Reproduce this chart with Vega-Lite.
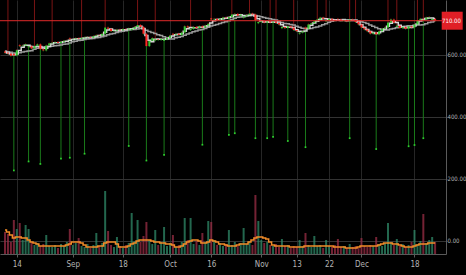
{
"$schema": "https://vega.github.io/schema/vega-lite/v6.json",
"width": 446, "height": 254,
"autosize": {"type": "none"},
"padding": {"left": 0, "top": 0, "right": 20, "bottom": 21},
"background": "#000000",
"config": {"view": {"stroke": null}},
"datasets": {"bars": [
{"i":0,"o":611,"c":607,"h":614,"l":604,"v":220,"m1":609,"m2":612,"vm":240},
{"i":1,"o":607,"c":604,"h":850,"l":601,"v":200,"m1":606,"m2":610,"vm":220},
{"i":2,"o":604,"c":597,"h":607,"l":594,"v":120,"m1":603,"m2":608,"vm":190},
{"i":3,"o":603,"c":598,"h":606,"l":227,"v":340,"m1":600,"m2":606,"vm":160},
{"i":4,"o":598,"c":615,"h":618,"l":595,"v":250,"m1":603,"m2":606,"vm":170},
{"i":5,"o":631,"c":628,"h":634,"l":625,"v":310,"m1":614,"m2":607,"vm":170},
{"i":6,"o":628,"c":630,"h":633,"l":625,"v":140,"m1":624,"m2":609,"vm":160},
{"i":7,"o":630,"c":634,"h":637,"l":627,"v":290,"m1":631,"m2":611,"vm":160},
{"i":8,"o":624,"c":628,"h":631,"l":256,"v":250,"m1":631,"m2":612,"vm":140},
{"i":9,"o":628,"c":620,"h":631,"l":617,"v":120,"m1":627,"m2":613,"vm":120},
{"i":10,"o":620,"c":628,"h":850,"l":617,"v":90,"m1":625,"m2":618,"vm":110},
{"i":11,"o":628,"c":634,"h":637,"l":625,"v":110,"m1":627,"m2":621,"vm":100},
{"i":12,"o":634,"c":618,"h":637,"l":248,"v":80,"m1":627,"m2":623,"vm":80},
{"i":13,"o":618,"c":614,"h":621,"l":611,"v":100,"m1":622,"m2":625,"vm":80},
{"i":14,"o":614,"c":630,"h":633,"l":611,"v":190,"m1":621,"m2":626,"vm":80},
{"i":15,"o":630,"c":637,"h":640,"l":627,"v":80,"m1":627,"m2":627,"vm":80},
{"i":16,"o":637,"c":639,"h":850,"l":634,"v":70,"m1":635,"m2":628,"vm":80},
{"i":17,"o":639,"c":641,"h":644,"l":636,"v":90,"m1":639,"m2":629,"vm":80},
{"i":18,"o":641,"c":638,"h":644,"l":635,"v":60,"m1":639,"m2":630,"vm":80},
{"i":19,"o":638,"c":642,"h":645,"l":265,"v":100,"m1":640,"m2":632,"vm":80},
{"i":20,"o":642,"c":645,"h":648,"l":639,"v":80,"m1":642,"m2":634,"vm":80},
{"i":21,"o":645,"c":646,"h":649,"l":642,"v":120,"m1":644,"m2":635,"vm":90},
{"i":22,"o":653,"c":650,"h":656,"l":268,"v":250,"m1":647,"m2":638,"vm":100},
{"i":23,"o":650,"c":651,"h":654,"l":647,"v":90,"m1":649,"m2":642,"vm":120},
{"i":24,"o":651,"c":653,"h":656,"l":648,"v":110,"m1":651,"m2":644,"vm":120},
{"i":25,"o":653,"c":651,"h":656,"l":648,"v":160,"m1":652,"m2":646,"vm":120},
{"i":26,"o":651,"c":654,"h":850,"l":648,"v":80,"m1":653,"m2":647,"vm":110},
{"i":27,"o":654,"c":656,"h":659,"l":281,"v":70,"m1":654,"m2":649,"vm":90},
{"i":28,"o":656,"c":657,"h":660,"l":653,"v":100,"m1":656,"m2":651,"vm":70},
{"i":29,"o":657,"c":655,"h":660,"l":652,"v":60,"m1":656,"m2":652,"vm":70},
{"i":30,"o":655,"c":660,"h":663,"l":652,"v":90,"m1":657,"m2":653,"vm":70},
{"i":31,"o":660,"c":663,"h":666,"l":657,"v":210,"m1":659,"m2":655,"vm":70},
{"i":32,"o":663,"c":662,"h":666,"l":659,"v":80,"m1":662,"m2":656,"vm":80},
{"i":33,"o":662,"c":668,"h":671,"l":659,"v":110,"m1":664,"m2":658,"vm":80},
{"i":34,"o":668,"c":688,"h":850,"l":665,"v":630,"m1":673,"m2":661,"vm":110},
{"i":35,"o":688,"c":684,"h":691,"l":681,"v":230,"m1":680,"m2":665,"vm":120},
{"i":36,"o":684,"c":676,"h":687,"l":673,"v":90,"m1":683,"m2":667,"vm":120},
{"i":37,"o":676,"c":678,"h":681,"l":673,"v":70,"m1":679,"m2":669,"vm":120},
{"i":38,"o":678,"c":681,"h":684,"l":675,"v":170,"m1":678,"m2":672,"vm":100},
{"i":39,"o":681,"c":679,"h":684,"l":676,"v":80,"m1":679,"m2":674,"vm":70},
{"i":40,"o":679,"c":683,"h":686,"l":676,"v":60,"m1":681,"m2":676,"vm":70},
{"i":41,"o":683,"c":682,"h":686,"l":679,"v":90,"m1":681,"m2":678,"vm":70},
{"i":42,"o":682,"c":685,"h":688,"l":306,"v":110,"m1":683,"m2":680,"vm":80},
{"i":43,"o":680,"c":684,"h":687,"l":677,"v":410,"m1":684,"m2":682,"vm":100},
{"i":44,"o":684,"c":690,"h":693,"l":681,"v":130,"m1":686,"m2":682,"vm":110},
{"i":45,"o":690,"c":696,"h":850,"l":687,"v":340,"m1":690,"m2":683,"vm":130},
{"i":46,"o":696,"c":690,"h":699,"l":687,"v":120,"m1":692,"m2":685,"vm":140},
{"i":47,"o":690,"c":668,"h":693,"l":665,"v":180,"m1":685,"m2":684,"vm":140},
{"i":48,"o":668,"c":628,"h":671,"l":259,"v":320,"m1":662,"m2":679,"vm":140},
{"i":49,"o":628,"c":645,"h":648,"l":625,"v":140,"m1":647,"m2":675,"vm":140},
{"i":50,"o":645,"c":654,"h":657,"l":642,"v":100,"m1":642,"m2":672,"vm":130},
{"i":51,"o":646,"c":650,"h":850,"l":643,"v":240,"m1":650,"m2":669,"vm":120},
{"i":52,"o":650,"c":648,"h":653,"l":645,"v":90,"m1":651,"m2":665,"vm":120},
{"i":53,"o":648,"c":652,"h":655,"l":645,"v":120,"m1":650,"m2":662,"vm":110},
{"i":54,"o":645,"c":650,"h":653,"l":277,"v":270,"m1":650,"m2":658,"vm":110},
{"i":55,"o":650,"c":655,"h":658,"l":647,"v":80,"m1":652,"m2":654,"vm":100},
{"i":56,"o":655,"c":662,"h":665,"l":652,"v":110,"m1":656,"m2":651,"vm":100},
{"i":57,"o":668,"c":665,"h":671,"l":662,"v":190,"m1":661,"m2":651,"vm":90},
{"i":58,"o":665,"c":668,"h":671,"l":662,"v":70,"m1":665,"m2":655,"vm":70},
{"i":59,"o":668,"c":664,"h":671,"l":661,"v":90,"m1":666,"m2":657,"vm":70},
{"i":60,"o":664,"c":672,"h":675,"l":661,"v":120,"m1":668,"m2":659,"vm":80},
{"i":61,"o":672,"c":692,"h":695,"l":669,"v":360,"m1":676,"m2":663,"vm":100},
{"i":62,"o":692,"c":688,"h":695,"l":685,"v":140,"m1":684,"m2":667,"vm":120},
{"i":63,"o":680,"c":684,"h":850,"l":677,"v":360,"m1":688,"m2":670,"vm":130},
{"i":64,"o":684,"c":690,"h":693,"l":681,"v":100,"m1":687,"m2":674,"vm":140},
{"i":65,"o":690,"c":686,"h":693,"l":683,"v":130,"m1":687,"m2":677,"vm":140},
{"i":66,"o":686,"c":692,"h":695,"l":683,"v":90,"m1":689,"m2":680,"vm":130},
{"i":67,"o":692,"c":688,"h":695,"l":310,"v":210,"m1":689,"m2":682,"vm":110},
{"i":68,"o":688,"c":694,"h":697,"l":685,"v":120,"m1":691,"m2":685,"vm":110},
{"i":69,"o":694,"c":700,"h":703,"l":691,"v":330,"m1":694,"m2":689,"vm":120},
{"i":70,"o":718,"c":714,"h":850,"l":711,"v":320,"m1":703,"m2":693,"vm":140},
{"i":71,"o":714,"c":716,"h":719,"l":711,"v":140,"m1":710,"m2":695,"vm":130},
{"i":72,"o":716,"c":712,"h":719,"l":709,"v":90,"m1":714,"m2":698,"vm":120},
{"i":73,"o":712,"c":716,"h":719,"l":709,"v":110,"m1":715,"m2":701,"vm":100},
{"i":74,"o":716,"c":720,"h":723,"l":713,"v":80,"m1":716,"m2":704,"vm":100},
{"i":75,"o":720,"c":718,"h":723,"l":715,"v":100,"m1":718,"m2":707,"vm":90},
{"i":76,"o":718,"c":722,"h":725,"l":342,"v":240,"m1":720,"m2":710,"vm":80},
{"i":77,"o":722,"c":730,"h":850,"l":719,"v":90,"m1":723,"m2":714,"vm":80},
{"i":78,"o":730,"c":732,"h":735,"l":347,"v":120,"m1":728,"m2":718,"vm":80},
{"i":79,"o":732,"c":726,"h":735,"l":723,"v":80,"m1":729,"m2":721,"vm":90},
{"i":80,"o":726,"c":730,"h":733,"l":723,"v":110,"m1":729,"m2":722,"vm":100},
{"i":81,"o":720,"c":724,"h":727,"l":717,"v":260,"m1":727,"m2":723,"vm":100},
{"i":82,"o":724,"c":728,"h":731,"l":721,"v":100,"m1":727,"m2":725,"vm":100},
{"i":83,"o":728,"c":733,"h":850,"l":725,"v":130,"m1":728,"m2":726,"vm":120},
{"i":84,"o":733,"c":730,"h":736,"l":727,"v":90,"m1":730,"m2":727,"vm":140},
{"i":85,"o":730,"c":712,"h":733,"l":331,"v":590,"m1":725,"m2":727,"vm":160},
{"i":86,"o":702,"c":706,"h":709,"l":699,"v":330,"m1":716,"m2":725,"vm":170},
{"i":87,"o":706,"c":708,"h":711,"l":703,"v":140,"m1":709,"m2":723,"vm":170},
{"i":88,"o":708,"c":704,"h":711,"l":701,"v":110,"m1":706,"m2":720,"vm":160},
{"i":89,"o":704,"c":708,"h":711,"l":331,"v":120,"m1":707,"m2":718,"vm":150},
{"i":90,"o":708,"c":704,"h":850,"l":701,"v":90,"m1":705,"m2":716,"vm":120},
{"i":91,"o":704,"c":707,"h":710,"l":335,"v":80,"m1":706,"m2":714,"vm":90},
{"i":92,"o":707,"c":703,"h":850,"l":700,"v":100,"m1":705,"m2":712,"vm":80},
{"i":93,"o":703,"c":698,"h":706,"l":695,"v":70,"m1":703,"m2":708,"vm":80},
{"i":94,"o":686,"c":690,"h":693,"l":683,"v":150,"m1":697,"m2":704,"vm":80},
{"i":95,"o":690,"c":686,"h":693,"l":683,"v":80,"m1":691,"m2":701,"vm":80},
{"i":96,"o":686,"c":692,"h":695,"l":322,"v":90,"m1":689,"m2":700,"vm":80},
{"i":97,"o":692,"c":688,"h":695,"l":685,"v":60,"m1":689,"m2":698,"vm":70},
{"i":98,"o":688,"c":680,"h":850,"l":677,"v":80,"m1":687,"m2":696,"vm":70},
{"i":99,"o":680,"c":676,"h":683,"l":673,"v":70,"m1":681,"m2":692,"vm":70},
{"i":100,"o":668,"c":672,"h":675,"l":665,"v":140,"m1":676,"m2":689,"vm":70},
{"i":101,"o":672,"c":676,"h":679,"l":669,"v":80,"m1":675,"m2":686,"vm":70},
{"i":102,"o":688,"c":684,"h":691,"l":302,"v":210,"m1":677,"m2":684,"vm":80},
{"i":103,"o":684,"c":698,"h":701,"l":681,"v":90,"m1":686,"m2":684,"vm":80},
{"i":104,"o":698,"c":702,"h":705,"l":695,"v":70,"m1":695,"m2":685,"vm":80},
{"i":105,"o":702,"c":708,"h":711,"l":699,"v":180,"m1":703,"m2":688,"vm":80},
{"i":106,"o":708,"c":714,"h":850,"l":705,"v":80,"m1":708,"m2":690,"vm":80},
{"i":107,"o":714,"c":720,"h":723,"l":711,"v":90,"m1":714,"m2":693,"vm":80},
{"i":108,"o":720,"c":716,"h":723,"l":713,"v":60,"m1":717,"m2":697,"vm":80},
{"i":109,"o":708,"c":712,"h":850,"l":705,"v":140,"m1":716,"m2":700,"vm":80},
{"i":110,"o":712,"c":716,"h":719,"l":709,"v":80,"m1":715,"m2":705,"vm":80},
{"i":111,"o":716,"c":713,"h":719,"l":710,"v":70,"m1":714,"m2":708,"vm":80},
{"i":112,"o":713,"c":710,"h":716,"l":707,"v":90,"m1":713,"m2":711,"vm":70},
{"i":113,"o":716,"c":714,"h":719,"l":711,"v":150,"m1":712,"m2":713,"vm":70},
{"i":114,"o":714,"c":710,"h":717,"l":707,"v":70,"m1":711,"m2":713,"vm":70},
{"i":115,"o":710,"c":712,"h":715,"l":707,"v":80,"m1":712,"m2":714,"vm":70},
{"i":116,"o":712,"c":708,"h":715,"l":705,"v":60,"m1":710,"m2":713,"vm":60},
{"i":117,"o":708,"c":714,"h":850,"l":331,"v":100,"m1":711,"m2":713,"vm":60},
{"i":118,"o":714,"c":712,"h":717,"l":709,"v":70,"m1":711,"m2":712,"vm":60},
{"i":119,"o":712,"c":706,"h":850,"l":703,"v":80,"m1":711,"m2":712,"vm":60},
{"i":120,"o":706,"c":698,"h":709,"l":695,"v":60,"m1":705,"m2":710,"vm":70},
{"i":121,"o":698,"c":688,"h":701,"l":685,"v":160,"m1":697,"m2":707,"vm":80},
{"i":122,"o":688,"c":682,"h":691,"l":679,"v":80,"m1":689,"m2":704,"vm":80},
{"i":123,"o":682,"c":676,"h":685,"l":673,"v":70,"m1":682,"m2":701,"vm":80},
{"i":124,"o":676,"c":668,"h":679,"l":665,"v":90,"m1":675,"m2":696,"vm":80},
{"i":125,"o":668,"c":672,"h":675,"l":665,"v":80,"m1":672,"m2":692,"vm":80},
{"i":126,"o":672,"c":666,"h":675,"l":296,"v":170,"m1":669,"m2":688,"vm":80},
{"i":127,"o":666,"c":676,"h":679,"l":663,"v":100,"m1":671,"m2":684,"vm":90},
{"i":128,"o":676,"c":684,"h":687,"l":673,"v":80,"m1":675,"m2":682,"vm":100},
{"i":129,"o":684,"c":688,"h":691,"l":681,"v":110,"m1":683,"m2":680,"vm":110},
{"i":130,"o":688,"c":704,"h":850,"l":685,"v":310,"m1":692,"m2":680,"vm":110},
{"i":131,"o":704,"c":714,"h":717,"l":701,"v":120,"m1":702,"m2":683,"vm":110},
{"i":132,"o":714,"c":704,"h":717,"l":701,"v":90,"m1":707,"m2":685,"vm":100},
{"i":133,"o":690,"c":694,"h":850,"l":687,"v":150,"m1":704,"m2":687,"vm":100},
{"i":134,"o":694,"c":686,"h":697,"l":683,"v":80,"m1":695,"m2":689,"vm":90},
{"i":135,"o":686,"c":690,"h":693,"l":683,"v":100,"m1":690,"m2":691,"vm":80},
{"i":136,"o":690,"c":684,"h":693,"l":681,"v":70,"m1":687,"m2":692,"vm":70},
{"i":137,"o":684,"c":692,"h":695,"l":305,"v":90,"m1":689,"m2":694,"vm":70},
{"i":138,"o":692,"c":688,"h":695,"l":685,"v":120,"m1":688,"m2":694,"vm":70},
{"i":139,"o":688,"c":698,"h":701,"l":309,"v":240,"m1":693,"m2":695,"vm":80},
{"i":140,"o":698,"c":712,"h":850,"l":695,"v":100,"m1":699,"m2":696,"vm":90},
{"i":141,"o":712,"c":716,"h":719,"l":709,"v":130,"m1":709,"m2":696,"vm":100},
{"i":142,"o":716,"c":714,"h":850,"l":331,"v":400,"m1":714,"m2":697,"vm":100},
{"i":143,"o":714,"c":720,"h":723,"l":711,"v":110,"m1":717,"m2":700,"vm":100},
{"i":144,"o":720,"c":722,"h":725,"l":717,"v":140,"m1":719,"m2":704,"vm":110},
{"i":145,"o":712,"c":716,"h":719,"l":709,"v":170,"m1":719,"m2":706,"vm":110},
{"i":146,"o":716,"c":710,"h":719,"l":707,"v":120,"m1":716,"m2":709,"vm":110}
]},
"data": {"name": "bars"},
"layer": [
 {
  "layer": [
   {
    "mark": {"type": "bar", "width": 2, "opacity": 0.75},
    "encoding": {
     "x": {"field": "i", "type": "quantitative", "scale": {"domain": [0, 148], "nice": false, "zero": false},
      "axis": {"values": [4, 23, 40, 56, 70, 87, 99, 110, 121, 139],
       "labelExpr": "datum.value==4?'14':datum.value==23?'Sep':datum.value==40?'18':datum.value==56?'Oct':datum.value==70?'16':datum.value==87?'Nov':datum.value==99?'13':datum.value==110?'22':datum.value==121?'Dec':datum.value==139?'18':''",
       "title": null, "grid": true, "gridColor": "#262626", "domainColor": "#5a5a5a", "tickColor": "#5a5a5a", "tickSize": 3,
       "labelColor": "#b4b4b4", "labelFont": "DejaVu Sans Condensed, sans-serif", "labelFontSize": 8, "labelPadding": 3, "labelAngle": 0, "labelFlush": false, "labelOverlap": false}},
     "y": {"field": "v", "type": "quantitative", "scale": {"domain": [0, 2540], "nice": false}, "axis": null},
     "color": {"condition": {"test": "datum.c >= datum.o", "value": "#2f8a68"}, "value": "#9b2d45"}
    }
   },
   {
    "mark": {"type": "line", "color": "#f28c28", "strokeWidth": 1.5, "interpolate": "step"},
    "encoding": {
     "x": {"field": "i", "type": "quantitative", "scale": {"domain": [0, 148], "nice": false, "zero": false}},
     "y": {"field": "vm", "type": "quantitative", "scale": {"domain": [0, 2540], "nice": false}, "axis": null}
    }
   }
  ]
 },
 {
  "layer": [
   {
    "mark": {"type": "rule", "color": "#1a7a1a", "strokeWidth": 1, "clip": true},
    "encoding": {
     "x": {"field": "i", "type": "quantitative", "scale": {"domain": [0, 148], "nice": false, "zero": false}},
     "y": {"field": "l", "type": "quantitative", "scale": {"domain": [-42.5, 776.8], "nice": false, "zero": false},
      "axis": {"orient": "right", "values": [0, 200, 400, 600], "format": ".2f", "title": null, "grid": true, "gridColor": "#333333",
       "domainColor": "#5a5a5a", "tickColor": "#5a5a5a", "tickSize": 1, "labelPadding": 0, "labelColor": "#b4b4b4",
       "labelFont": "DejaVu Sans Condensed, sans-serif", "labelFontSize": 6, "labelAlign": "left"}},
     "y2": {"field": "o"}
    }
   },
   {
    "transform": [{"filter": "datum.l < 500"}],
    "mark": {"type": "square", "size": 3, "color": "#2fd02f", "opacity": 1},
    "encoding": {
     "x": {"field": "i", "type": "quantitative", "scale": {"domain": [0, 148], "nice": false, "zero": false}},
     "y": {"field": "l", "type": "quantitative"}
    }
   },
   {
    "mark": {"type": "rule", "color": "#7a1414", "strokeWidth": 1, "clip": true},
    "encoding": {
     "x": {"field": "i", "type": "quantitative", "scale": {"domain": [0, 148], "nice": false, "zero": false}},
     "y": {"field": "o", "type": "quantitative"},
     "y2": {"field": "h"}
    }
   },
   {
    "mark": {"type": "line", "color": "#9a9a9a", "strokeWidth": 1.5, "interpolate": "step"},
    "encoding": {
     "x": {"field": "i", "type": "quantitative", "scale": {"domain": [0, 148], "nice": false, "zero": false}},
     "y": {"field": "m2", "type": "quantitative"}
    }
   },
   {
    "mark": {"type": "line", "color": "#d6d6d6", "strokeWidth": 1.5, "interpolate": "step"},
    "encoding": {
     "x": {"field": "i", "type": "quantitative", "scale": {"domain": [0, 148], "nice": false, "zero": false}},
     "y": {"field": "m1", "type": "quantitative"}
    }
   },
   {
    "mark": {"type": "bar", "width": 2},
    "encoding": {
     "x": {"field": "i", "type": "quantitative", "scale": {"domain": [0, 148], "nice": false, "zero": false}},
     "y": {"field": "o", "type": "quantitative"},
     "y2": {"field": "c"},
     "color": {"condition": {"test": "datum.c >= datum.o", "value": "#36c936"}, "value": "#ff2424"}
    }
   },
   {
    "transform": [{"filter": "datum.i == 146"}],
    "mark": {"type": "rule", "color": "#e02a2a", "strokeWidth": 1},
    "encoding": {
     "y": {"field": "c", "type": "quantitative"}
    }
   },
   {
    "transform": [{"filter": "datum.i == 146"}],
    "mark": {"type": "tick", "orient": "horizontal", "size": 21, "thickness": 18, "color": "#e01f26", "opacity": 1},
    "encoding": {
     "x": {"datum": 151.8, "type": "quantitative"},
     "y": {"field": "c", "type": "quantitative"}
    }
   },
   {
    "transform": [{"filter": "datum.i == 146"}],
    "mark": {"type": "text", "align": "left", "baseline": "middle", "color": "#ffffff", "font": "DejaVu Sans Condensed, sans-serif", "fontSize": 6},
    "encoding": {
     "x": {"datum": 148.35, "type": "quantitative"},
     "y": {"field": "c", "type": "quantitative"},
     "text": {"field": "c", "type": "quantitative", "format": ".2f"}
    }
   }
  ]
 }
],
"resolve": {"scale": {"y": "independent"}}
}
